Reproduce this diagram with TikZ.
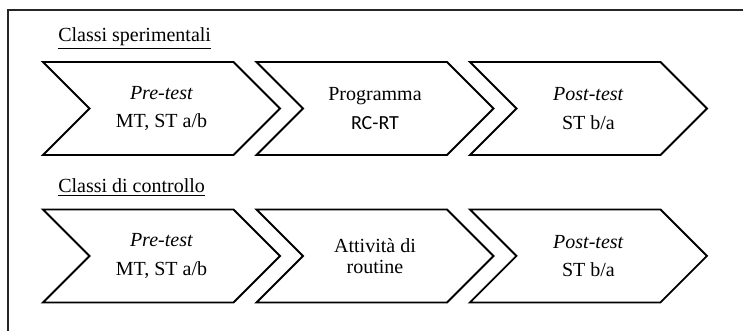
\documentclass[tikz,border=0pt]{standalone}
\usepackage{fontspec}
\setmainfont{Liberation Serif}
\newfontfamily\calibri{Carlito}
\usetikzlibrary{shapes.symbols,positioning}
\tikzset{
  chev/.style={signal, draw, signal from=west, signal to=east,
    signal pointer angle=90, line width=1.4pt, align=center,
    minimum width=177.75pt, minimum height=69.75pt, inner sep=0pt,
    font=\fontsize{15}{21.5}\selectfont},
  group/.style={anchor=base west, inner sep=0pt,
    font=\fontsize{15}{18}\selectfont},
  frame/.style={draw, line width=1.2pt, black!85}
}
\begin{document}
\begin{tikzpicture}[x=0.75pt, y=-0.75pt, node distance=110.6pt and 160.1pt, on grid]
  \useasboundingbox (0,0) rectangle (743,331);
  \draw [frame] (8,345) |- (760,10);
  % classi sperimentali
  \node [group] (sper) at (58,42) {\underline{Classi sperimentali}};
  \node [chev] (pre1) at (161.5,108.5) {\textit{Pre-test}\\MT, ST a/b};
  \node [chev, right=of pre1] (prog) {Programma\\{\calibri RC-RT}};
  \node [chev, right=of prog] (post1) {\textit{Post-test}\\ST b/a};
  % classi di controllo
  \node [group] (contr) at (58,193) {\underline{Classi di controllo}};
  \node [chev, below=of pre1] (pre2) {\textit{Pre-test}\\MT, ST a/b};
  \node [chev, right=of pre2, font=\fontsize{15}{15.5}\selectfont] (rout) {Attività di\\routine};
  \node [chev, right=of rout] (post2) {\textit{Post-test}\\ST b/a};
\end{tikzpicture}
\end{document}
